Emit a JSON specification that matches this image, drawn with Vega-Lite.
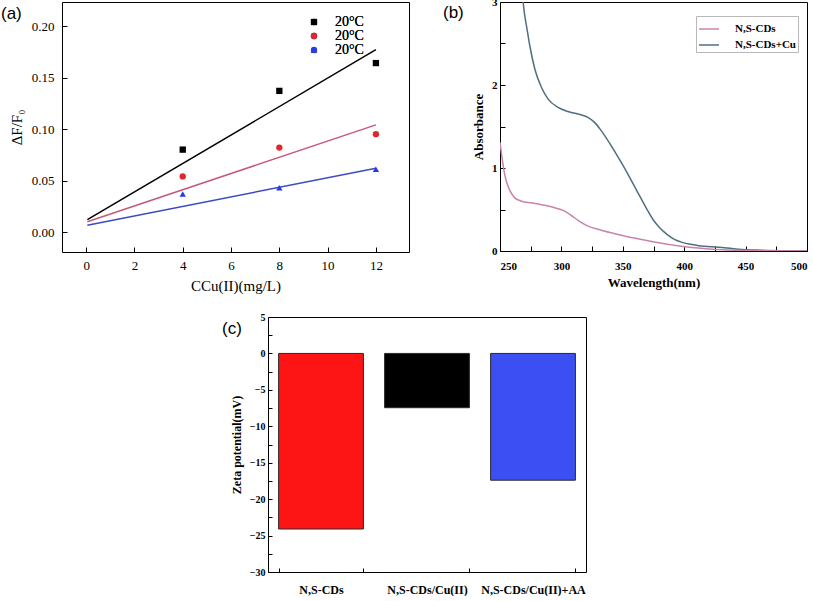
{
  "$schema": "https://vega.github.io/schema/vega-lite/v6.json",
  "padding": {"left": 0, "top": -5, "right": 0, "bottom": 0},
  "background": "white",
  "config": {
    "view": {"stroke": "black", "strokeWidth": 1},
    "axis": {"domain": false, "grid": false, "tickColor": "black", "labelColor": "black", "titleColor": "black", "labelFont": "Liberation Serif", "titleFont": "Liberation Serif", "labelOverlap": false},
    "legend": {"labelFont": "Liberation Serif", "labelColor": "black"}
  },
  "resolve": {"scale": {"color": "independent", "shape": "independent"}, "legend": {"color": "independent", "shape": "independent"}},
  "vconcat": [
    {
      "resolve": {"scale": {"color": "independent", "shape": "independent"}, "legend": {"color": "independent", "shape": "independent"}},
      "hconcat": [
        {
          "title": {"text": "(a)", "anchor": "start", "frame": "group", "dx": -61, "dy": 21, "offset": 0, "font": "Liberation Sans", "fontSize": 17, "fontWeight": "normal", "color": "black"},
          "width": 347,
          "height": 250,
          "layer": [
            {
              "data": {"values": [
                {"c": 0.05, "v": 0.012, "series": "s1"}, {"c": 12, "v": 0.177, "series": "s1"},
                {"c": 0.05, "v": 0.010, "series": "s2"}, {"c": 12, "v": 0.104, "series": "s2"},
                {"c": 0.05, "v": 0.0065, "series": "s3"}, {"c": 12, "v": 0.062, "series": "s3"}
              ]},
              "mark": {"type": "line", "strokeWidth": 1.5, "clip": true},
              "encoding": {
                "x": {"field": "c", "type": "quantitative", "scale": {"domain": [-1, 13.37], "nice": false, "zero": false},
                  "axis": {"values": [0,1,2,3,4,5,6,7,8,9,10,11,12], "labelExpr": "datum.value % 2 == 0 ? datum.label : ''", "labelOverlap": false, "title": "CCu(II)(mg/L)", "offset": -5, "tickSize": 5, "labelPadding": 7, "labelFontSize": 13, "titleFontSize": 15, "titleFontWeight": "normal", "titlePadding": 6}},
                "y": {"field": "v", "type": "quantitative", "scale": {"domain": [-0.0194, 0.2233], "nice": false, "zero": false},
                  "axis": {"values": [0,0.025,0.05,0.075,0.1,0.125,0.15,0.175,0.2], "format": ".2f", "labelExpr": "abs(datum.value*20 - round(datum.value*20)) < 0.000001 ? datum.label : ''", "labelOverlap": false, "title": "ΔF/F₀", "offset": -5, "tickSize": 5, "labelPadding": 8, "labelFontSize": 13, "titleFontSize": 15, "titleFontWeight": "normal", "titlePadding": 7}},
                "color": {"field": "series", "type": "nominal", "scale": {"domain": ["s1","s2","s3"], "range": ["#000000", "#c65a78", "#3a4cc0"]}, "legend": null},
                "detail": {"field": "series"}
              }
            },
            {
              "data": {"values": [
                {"c": 4, "v": 0.080, "series": "s1"}, {"c": 8, "v": 0.137, "series": "s1"}, {"c": 12, "v": 0.164, "series": "s1"},
                {"c": 4, "v": 0.054, "series": "s2"}, {"c": 8, "v": 0.082, "series": "s2"}, {"c": 12, "v": 0.095, "series": "s2"},
                {"c": 4, "v": 0.037, "series": "s3"}, {"c": 8, "v": 0.043, "series": "s3"}, {"c": 12, "v": 0.061, "series": "s3"}
              ]},
              "mark": {"type": "point", "filled": true, "size": 40, "opacity": 1},
              "encoding": {
                "x": {"field": "c", "type": "quantitative"},
                "y": {"field": "v", "type": "quantitative"},
                "color": {"field": "series", "type": "nominal", "scale": {"domain": ["s1","s2","s3"], "range": ["#000000", "#e4262c", "#2a3be6"]},
                  "legend": {"orient": "none", "legendX": 245, "legendY": 13, "title": null, "labelExpr": "'20°C'", "labelFontSize": 14, "symbolSize": 40, "rowPadding": 0, "labelOffset": 14}},
                "shape": {"field": "series", "type": "nominal", "scale": {"domain": ["s1","s2","s3"], "range": ["square", "circle", "triangle-up"]},
                  "legend": {"orient": "none", "legendX": 245, "legendY": 13, "title": null, "labelExpr": "'20°C'", "labelFontSize": 14, "symbolSize": 40, "rowPadding": 0, "labelOffset": 14}}
              }
            }
          ],
          "resolve": {"scale": {"color": "independent"}}
        },
        {
          "title": {"text": "(b)", "anchor": "start", "frame": "group", "dx": -57, "dy": 26, "offset": 0, "font": "Liberation Sans", "fontSize": 17, "fontWeight": "normal", "color": "black"},
          "width": 307,
          "height": 249,
          "data": {"values": [
            {"nm": 268.5, "a": 3.05, "s": "N,S-CDs+Cu"}, {"nm": 270, "a": 2.85, "s": "N,S-CDs+Cu"}, {"nm": 271.6, "a": 2.71, "s": "N,S-CDs+Cu"},
            {"nm": 274.3, "a": 2.47, "s": "N,S-CDs+Cu"}, {"nm": 278.4, "a": 2.19, "s": "N,S-CDs+Cu"}, {"nm": 283.8, "a": 1.97, "s": "N,S-CDs+Cu"},
            {"nm": 289.2, "a": 1.83, "s": "N,S-CDs+Cu"}, {"nm": 297.3, "a": 1.73, "s": "N,S-CDs+Cu"}, {"nm": 305.4, "a": 1.68, "s": "N,S-CDs+Cu"},
            {"nm": 313.5, "a": 1.65, "s": "N,S-CDs+Cu"}, {"nm": 321.6, "a": 1.61, "s": "N,S-CDs+Cu"}, {"nm": 327, "a": 1.55, "s": "N,S-CDs+Cu"},
            {"nm": 332.4, "a": 1.45, "s": "N,S-CDs+Cu"}, {"nm": 340.5, "a": 1.27, "s": "N,S-CDs+Cu"}, {"nm": 348.6, "a": 1.07, "s": "N,S-CDs+Cu"},
            {"nm": 354, "a": 0.93, "s": "N,S-CDs+Cu"}, {"nm": 362, "a": 0.71, "s": "N,S-CDs+Cu"}, {"nm": 369, "a": 0.52, "s": "N,S-CDs+Cu"},
            {"nm": 375, "a": 0.37, "s": "N,S-CDs+Cu"}, {"nm": 380, "a": 0.28, "s": "N,S-CDs+Cu"}, {"nm": 386, "a": 0.20, "s": "N,S-CDs+Cu"},
            {"nm": 392, "a": 0.14, "s": "N,S-CDs+Cu"}, {"nm": 397, "a": 0.11, "s": "N,S-CDs+Cu"}, {"nm": 405, "a": 0.08, "s": "N,S-CDs+Cu"},
            {"nm": 412, "a": 0.064, "s": "N,S-CDs+Cu"}, {"nm": 428, "a": 0.045, "s": "N,S-CDs+Cu"}, {"nm": 444, "a": 0.022, "s": "N,S-CDs+Cu"},
            {"nm": 461, "a": 0.01, "s": "N,S-CDs+Cu"}, {"nm": 480, "a": 0.003, "s": "N,S-CDs+Cu"}, {"nm": 500, "a": 0.0, "s": "N,S-CDs+Cu"},
            {"nm": 250, "a": 1.31, "s": "N,S-CDs"}, {"nm": 251.4, "a": 1.15, "s": "N,S-CDs"}, {"nm": 254, "a": 0.91, "s": "N,S-CDs"},
            {"nm": 256, "a": 0.80, "s": "N,S-CDs"}, {"nm": 258, "a": 0.73, "s": "N,S-CDs"}, {"nm": 262, "a": 0.64, "s": "N,S-CDs"},
            {"nm": 267.6, "a": 0.60, "s": "N,S-CDs"}, {"nm": 275.7, "a": 0.58, "s": "N,S-CDs"}, {"nm": 286.5, "a": 0.55, "s": "N,S-CDs"},
            {"nm": 294.6, "a": 0.52, "s": "N,S-CDs"}, {"nm": 302.7, "a": 0.48, "s": "N,S-CDs"}, {"nm": 308, "a": 0.43, "s": "N,S-CDs"},
            {"nm": 313.5, "a": 0.37, "s": "N,S-CDs"}, {"nm": 321.6, "a": 0.30, "s": "N,S-CDs"}, {"nm": 332.4, "a": 0.25, "s": "N,S-CDs"},
            {"nm": 346, "a": 0.20, "s": "N,S-CDs"}, {"nm": 359.5, "a": 0.156, "s": "N,S-CDs"}, {"nm": 375.7, "a": 0.108, "s": "N,S-CDs"},
            {"nm": 396, "a": 0.06, "s": "N,S-CDs"}, {"nm": 417.6, "a": 0.028, "s": "N,S-CDs"}, {"nm": 444.6, "a": 0.008, "s": "N,S-CDs"},
            {"nm": 470, "a": 0.002, "s": "N,S-CDs"}, {"nm": 500, "a": 0.0, "s": "N,S-CDs"}
          ]},
          "mark": {"type": "line", "strokeWidth": 1.5, "clip": true, "interpolate": "monotone"},
          "encoding": {
            "x": {"field": "nm", "type": "quantitative", "scale": {"domain": [250, 500], "nice": false, "zero": false},
              "axis": {"values": [250,275,300,325,350,375,400,425,450,475,500], "labelExpr": "datum.value % 50 == 0 ? datum.label : ''", "labelOverlap": false, "title": "Wavelength(nm)", "offset": -5, "tickSize": 5, "labelPadding": 9, "labelFontSize": 11, "labelFontWeight": "bold", "titleFontSize": 13, "titleFontWeight": "bold", "titlePadding": 5}},
            "y": {"field": "a", "type": "quantitative", "scale": {"domain": [0, 3], "nice": false, "zero": false},
              "axis": {"values": [0,0.5,1,1.5,2,2.5,3], "labelExpr": "datum.value % 1 == 0 ? format(datum.value, 'd') : ''", "labelOverlap": false, "title": "Absorbance", "offset": -5, "tickSize": 5, "labelPadding": 3, "labelFontSize": 11, "labelFontWeight": "bold", "titleFontSize": 13, "titleFontWeight": "bold", "titlePadding": 6}},
            "color": {"field": "s", "type": "nominal", "scale": {"domain": ["N,S-CDs", "N,S-CDs+Cu"], "range": ["#c884ac", "#4f6f80"]},
              "legend": {"orient": "none", "legendX": 196, "legendY": 14, "title": null, "symbolType": "stroke", "symbolSize": 400, "symbolStrokeWidth": 1.5, "labelFontSize": 11, "labelFontWeight": "bold", "strokeColor": "#b8b8b8", "padding": 2, "rowPadding": -2, "labelOffset": 15}}
          }
        }
      ],
      "spacing": 32
    },
    {
      "resolve": {"scale": {"color": "independent"}},
      "hconcat": [
        {
          "width": 139,
          "height": 1,
          "view": {"stroke": null},
          "data": {"values": []},
          "mark": "point",
          "encoding": {}
        },
        {
          "title": {"text": "(c)", "anchor": "start", "frame": "group", "dx": -46, "dy": 26, "offset": 0, "font": "Liberation Sans", "fontSize": 17, "fontWeight": "normal", "color": "black"},
          "width": 318,
          "height": 255,
          "layer": [
            {
              "data": {"values": [
                {"sample": "N,S-CDs", "zeta": -24.1},
                {"sample": "N,S-CDs/Cu(II)", "zeta": -7.45},
                {"sample": "N,S-CDs/Cu(II)+AA", "zeta": -17.4}
              ]},
              "mark": {"type": "bar", "stroke": "#2a2a2a", "strokeWidth": 1},
              "encoding": {
                "x": {"field": "sample", "type": "nominal", "sort": null, "scale": {"paddingInner": 0.2, "paddingOuter": 0.1},
                  "axis": {"title": null, "labelAngle": 0, "tickBand": "extent", "offset": -4, "tickSize": 4, "labelPadding": 12, "labelFontSize": 12, "labelFontWeight": "bold", "labelOverlap": false}},
                "y": {"field": "zeta", "type": "quantitative", "scale": {"domain": [-30, 5], "nice": false, "zero": false},
                  "axis": {"values": [-30,-27.5,-25,-22.5,-20,-17.5,-15,-12.5,-10,-7.5,-5,-2.5,0,2.5,5], "labelExpr": "datum.value % 5 == 0 ? datum.label : ''", "labelOverlap": false, "title": "Zeta potential(mV)", "offset": -4, "tickSize": 4, "labelPadding": 3, "labelFontSize": 10, "labelFontWeight": "bold", "titleFontSize": 12, "titleFontWeight": "bold", "titlePadding": 6}},
                "color": {"field": "sample", "type": "nominal", "scale": {"domain": ["N,S-CDs", "N,S-CDs/Cu(II)", "N,S-CDs/Cu(II)+AA"], "range": ["#fd1414", "#000000", "#3b4ff2"]}, "legend": null}
              }
            },
            {
              "mark": {"type": "rule", "color": "black", "strokeWidth": 1},
              "encoding": {"y": {"datum": 0, "type": "quantitative",
                "axis": {"values": [-30,-27.5,-25,-22.5,-20,-17.5,-15,-12.5,-10,-7.5,-5,-2.5,0,2.5,5], "labelExpr": "datum.value % 5 == 0 ? datum.label : ''", "labelOverlap": false, "title": "Zeta potential(mV)", "offset": -4, "tickSize": 4, "labelPadding": 3, "labelFontSize": 10, "labelFontWeight": "bold", "titleFontSize": 12, "titleFontWeight": "bold", "titlePadding": 6}}}
            }
          ]
        }
      ],
      "spacing": 20
    }
  ],
  "spacing": 17
}
